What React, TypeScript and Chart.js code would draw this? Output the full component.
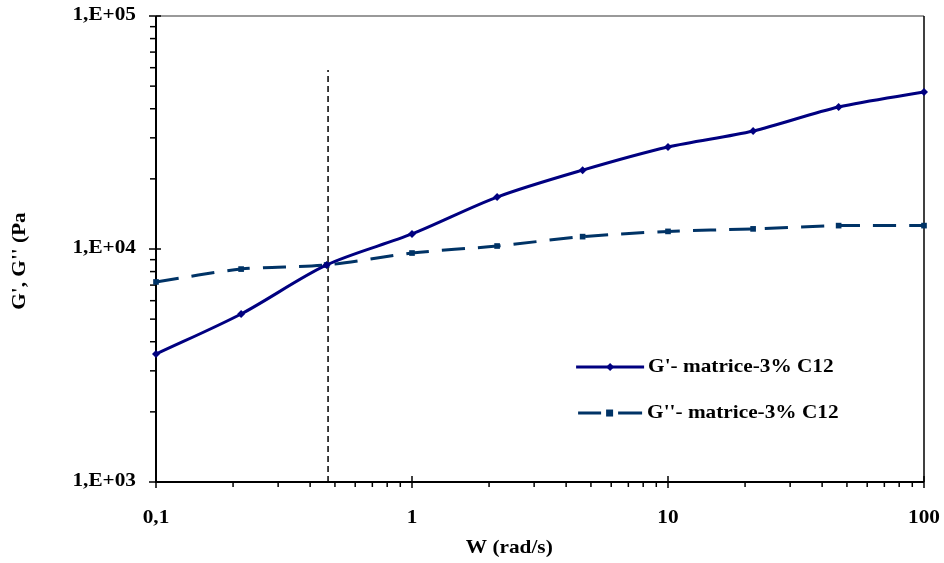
import React, { useEffect, useRef } from "react";
import { Chart, registerables } from "chart.js";

Chart.register(...registerables);

// ---- data ----
const omega = [0.1, 0.215, 0.464, 1, 2.15, 4.64, 10, 21.5, 46.4, 100];
const gPrime = [3540, 5260, 8540, 11600, 16700, 21800, 27400, 32100, 40700, 47200];
const gDouble = [7220, 8200, 8540, 9610, 10300, 11300, 11900, 12200, 12600, 12600];
const crossX = [0.47, 0.47];
const crossY = [1000, 58600];

const xTickValues = [0.1, 1, 10, 100];
const xTickLabels = ["0,1", "1", "10", "100"];
const yTickValues = [1000, 10000, 100000];
const yTickLabels = ["1,E+03", "1,E+04", "1,E+05"];

const seriesNames = ["G'- matrice-3% C12", "G''- matrice-3% C12"];
const xTitle = "W (rad/s)";
const yTitle = "G', G'' (Pa";

const FONT = 'bold 19px "Liberation Serif", "Times New Roman", serif';
const SX = 1.12;

function drawText(ctx: CanvasRenderingContext2D, text: string, x: number, y: number, align: "left" | "center" | "right") {
  ctx.save();
  ctx.font = FONT;
  ctx.textBaseline = "middle";
  ctx.textAlign = "left";
  const w = ctx.measureText(text).width * SX;
  let left = x;
  if (align === "center") left = x - w / 2;
  else if (align === "right") left = x - w;
  ctx.translate(left, y);
  ctx.scale(SX, 1);
  ctx.fillStyle = "#000";
  ctx.fillText(text, 0, 0);
  ctx.restore();
}

function minorValues(min: number, max: number) {
  const out: number[] = [];
  for (let d = min; d < max; d *= 10) {
    for (let k = 2; k <= 9; k++) out.push(Math.round(d * k * 1e6) / 1e6);
  }
  return out;
}

const axesPlugin = {
  id: "excelAxes",
  beforeDatasetsDraw(chart: any) {
    const ctx: CanvasRenderingContext2D = chart.ctx;
    const { left, right, top, bottom } = chart.chartArea;
    const xs = chart.scales.x;
    const ys = chart.scales.y;
    ctx.save();
    // top border
    ctx.strokeStyle = "#777";
    ctx.lineWidth = 1.5;
    ctx.beginPath();
    ctx.moveTo(left, top);
    ctx.lineTo(right, top);
    ctx.stroke();
    // right border
    ctx.strokeStyle = "#000";
    ctx.beginPath();
    ctx.moveTo(right, top);
    ctx.lineTo(right, bottom);
    ctx.stroke();
    // axes
    ctx.lineWidth = 2;
    ctx.beginPath();
    ctx.moveTo(left, top);
    ctx.lineTo(left, bottom);
    ctx.lineTo(right, bottom);
    ctx.stroke();
    // y ticks
    ctx.lineWidth = 1.5;
    for (const v of yTickValues) {
      const p = ys.getPixelForValue(v);
      ctx.beginPath();
      ctx.moveTo(left - 7, p);
      ctx.lineTo(left + 5, p);
      ctx.stroke();
    }
    for (const v of minorValues(1000, 100000)) {
      const p = ys.getPixelForValue(v);
      ctx.beginPath();
      ctx.moveTo(left - 6, p);
      ctx.lineTo(left, p);
      ctx.stroke();
    }
    // x ticks
    for (const v of xTickValues) {
      const p = xs.getPixelForValue(v);
      ctx.beginPath();
      ctx.moveTo(p, bottom - 6);
      ctx.lineTo(p, bottom + 6);
      ctx.stroke();
    }
    for (const v of minorValues(0.1, 100)) {
      const p = xs.getPixelForValue(v);
      ctx.beginPath();
      ctx.moveTo(p, bottom);
      ctx.lineTo(p, bottom + 5);
      ctx.stroke();
    }
    ctx.restore();
  },
  afterDraw(chart: any) {
    const ctx: CanvasRenderingContext2D = chart.ctx;
    const { left, right, top, bottom } = chart.chartArea;
    const xs = chart.scales.x;
    const ys = chart.scales.y;
    // tick labels
    yTickValues.forEach((v, i) => {
      drawText(ctx, yTickLabels[i], left - 20, ys.getPixelForValue(v) - 1, "right");
    });
    xTickValues.forEach((v, i) => {
      drawText(ctx, xTickLabels[i], xs.getPixelForValue(v), bottom + 36, "center");
    });
    // titles
    drawText(ctx, xTitle, left + (right - left) * 0.46, bottom + 66, "center");
    ctx.save();
    ctx.translate(20, (top + bottom) / 2 + 12);
    ctx.rotate(-Math.PI / 2);
    drawText(ctx, yTitle, 0, 0, "center");
    ctx.restore();

    // legend
    const lx = left + (right - left) * 0.547;
    const rows = [top + (bottom - top) * 0.753, top + (bottom - top) * 0.852];
    ctx.save();
    // G'
    ctx.strokeStyle = "#000080";
    ctx.lineWidth = 3;
    ctx.beginPath();
    ctx.moveTo(lx, rows[0]);
    ctx.lineTo(lx + 68, rows[0]);
    ctx.stroke();
    ctx.fillStyle = "#000080";
    ctx.beginPath();
    ctx.moveTo(lx + 34, rows[0] - 4);
    ctx.lineTo(lx + 38, rows[0]);
    ctx.lineTo(lx + 34, rows[0] + 4);
    ctx.lineTo(lx + 30, rows[0]);
    ctx.closePath();
    ctx.fill();
    // G''
    ctx.strokeStyle = "#003366";
    ctx.fillStyle = "#003366";
    ctx.beginPath();
    ctx.moveTo(lx + 2, rows[1]);
    ctx.lineTo(lx + 25, rows[1]);
    ctx.moveTo(lx + 42, rows[1]);
    ctx.lineTo(lx + 66, rows[1]);
    ctx.stroke();
    ctx.fillRect(lx + 30, rows[1] - 3.5, 7, 7);
    ctx.restore();
    drawText(ctx, seriesNames[0], lx + 72, rows[0], "left");
    drawText(ctx, seriesNames[1], lx + 71, rows[1], "left");
  },
};

export default function App() {
  const ref = useRef<HTMLCanvasElement | null>(null);
  useEffect(() => {
    document.body.style.margin = "0";
    const canvas = ref.current!;
    const chart = new Chart(canvas, {
      type: "line",
      data: {
        datasets: [
          {
            label: seriesNames[0],
            data: omega.map((x, i) => ({ x, y: gPrime[i] })),
            borderColor: "#000080",
            backgroundColor: "#000080",
            borderWidth: 3,
            pointStyle: "rectRot",
            pointRadius: 4,
            pointBorderWidth: 0,
            tension: 0.3,
            clip: 10,
          },
          {
            label: seriesNames[1],
            data: omega.map((x, i) => ({ x, y: gDouble[i] })),
            borderColor: "#003366",
            backgroundColor: "#003366",
            borderWidth: 3,
            borderDash: [23, 13],
            pointStyle: "rect",
            pointRadius: 4,
            pointBorderWidth: 0,
            tension: 0.3,
            clip: 10,
          },
          {
            label: "cross",
            data: crossX.map((x, i) => ({ x, y: crossY[i] })),
            borderColor: "#000",
            borderWidth: 1.5,
            borderDash: [6, 4],
            pointRadius: 0,
            tension: 0,
          },
        ],
      },
      options: {
        animation: false,
        responsive: false,
        devicePixelRatio: 1,
        layout: { padding: { left: 156, top: 16, right: 20, bottom: 81 } },
        plugins: { legend: { display: false }, tooltip: { enabled: false } },
        scales: {
          x: { type: "logarithmic", min: 0.1, max: 100, display: false },
          y: { type: "logarithmic", min: 1000, max: 100000, display: false },
        },
      } as any,
      plugins: [axesPlugin],
    });
    return () => chart.destroy();
  }, []);
  return (
    <div style={{ width: 944, height: 563, background: "#fff" }}>
      <canvas ref={ref} width={944} height={563} style={{ display: "block" }} />
    </div>
  );
}
